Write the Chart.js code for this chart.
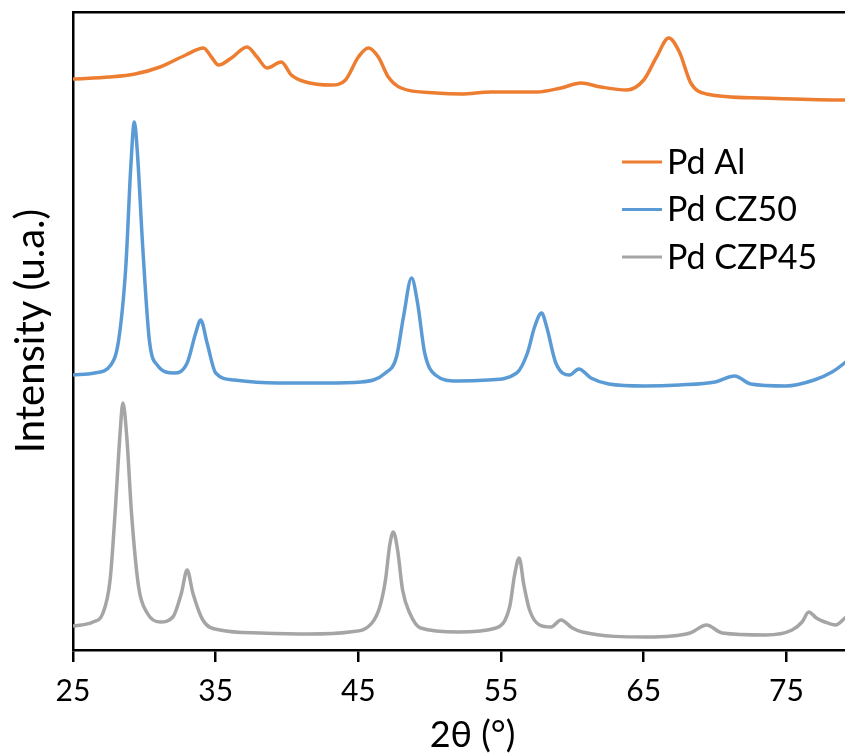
<!DOCTYPE html>
<html>
<head>
<meta charset="utf-8">
<script src="https://cdn.jsdelivr.net/npm/chart.js@4/dist/chart.umd.min.js"></script>
<style>
  body { margin: 0; background: #fff; }
  #crop { width: 845px; height: 753px; overflow: hidden; }
</style>
</head>
<body>
<div id="crop"><canvas id="myChart" width="872" height="753"></canvas></div>
<script>
// XRD patterns (intensity in arbitrary units, stacked)
const alTheta = [25.0, 27.6, 29.35, 31.1, 32.9, 34.15, 34.7, 35.2, 36.1, 37.2, 37.9, 38.6, 39.6, 40.3, 41.3, 43.1, 44.1,
    45.0, 45.7, 46.4, 47.1, 48.0, 50.45, 52.2, 54.3, 57.5, 59.2, 60.6, 62.0, 63.8, 65.0, 65.9, 66.75, 67.5, 68.3,
    69.4, 73.2, 79.0, 80.0];
const alIntensity = [571, 573, 576, 583, 595, 602, 593, 585, 592, 603, 593, 582, 588, 575, 568, 565, 570,
    593, 602, 593, 573, 562, 557, 556, 558, 558, 562, 567, 563, 560, 570, 593, 612, 598, 567,
    556, 552, 550, 550];

const cz50Theta = [25.0, 26.5, 27.65, 28.2, 28.7, 29.05, 29.3, 29.5, 29.9, 30.35, 30.9, 32.1, 33.0, 33.6, 33.95, 34.4,
    35.0, 36.3, 39.35, 42.7, 45.2, 46.9, 47.67, 48.16, 48.73, 49.15, 49.65, 50.4, 51.9, 54.1, 56.1, 56.85, 57.35,
    57.84, 58.2, 58.84, 59.8, 60.45, 61.3, 62.56, 65.04, 67.5, 70.0, 71.37, 72.5, 74.97, 76.95, 78.2, 79.07, 79.6];
const cz50Intensity = [275, 277, 285, 310, 383, 483, 528, 500, 400, 310, 285, 277, 287, 317, 330, 307,
    277, 270, 267, 267, 268, 277, 293, 333, 372, 347, 297, 275, 269, 270, 277, 297, 323,
    337, 323, 287, 275, 281, 272, 266, 264, 265, 268, 274, 266, 264, 270, 278, 287, 294];

const czp45Theta = [25.0, 26.4, 27.1, 27.6, 27.95, 28.3, 28.5, 28.77, 29.1, 29.6, 30.2, 31.1, 32.0, 32.6, 33.0, 33.4,
    34.1, 35.3, 38.1, 41.5, 44.4, 45.95, 46.5, 46.9, 47.2, 47.45, 47.75, 48.1, 48.6, 49.36, 52.0, 54.65, 55.6,
    55.95, 56.27, 56.6, 57.0, 57.7, 58.5, 59.2, 60.0, 60.7, 65.2, 68.25, 69.4, 70.5, 73.55, 75.4, 76.1, 76.57,
    77.1, 77.7, 78.45, 79.1, 79.6];
const czp45Intensity = [24, 28, 37, 70, 137, 217, 247, 213, 137, 63, 37, 28, 33, 57, 80, 57,
    30, 20, 17, 16, 18, 27, 43, 70, 105, 118, 100, 60, 37, 22, 18, 22, 43,
    75, 92, 65, 40, 25, 23, 30, 22, 18, 13, 17, 25, 17, 15, 20, 28, 38,
    32, 28, 25, 32, 38];

const seriesLabels = ['Pd Al', 'Pd CZ50', 'Pd CZP45'];
const seriesColors = ['#ED7D31', '#5B9BD5', '#A5A5A5'];
const xTicks = [25, 35, 45, 55, 65, 75];

function points(xs, ys)
{
    return xs.map((x, i) => ({x: x, y: ys[i]}));
}

// legend drawn inside the plot area, top right
const insideLegend = {
    id: 'insideLegend',
    afterDraw(chart)
    {
        const ctx = chart.ctx;
        ctx.save();
        ctx.font = '34px Lato';
        ctx.textBaseline = 'middle';
        chart.data.datasets.forEach((ds, i) => {
            const y = 162 + i * 47.5;
            ctx.strokeStyle = ds.borderColor;
            ctx.lineWidth = 3;
            ctx.beginPath();
            ctx.moveTo(622, y);
            ctx.lineTo(662, y);
            ctx.stroke();
            ctx.fillStyle = '#000';
            ctx.fillText(ds.label, 667, y + 1);
        });
        ctx.restore();
    }
};

Chart.defaults.font.family = 'Lato';
Chart.defaults.color = '#000';

let myChart = document.getElementById('myChart').getContext('2d');

let chart_1 = new Chart(myChart,
{
    type: 'line',
    data:
    {
        datasets:
        [
            {label: seriesLabels[0], data: points(alTheta, alIntensity)},
            {label: seriesLabels[1], data: points(cz50Theta, cz50Intensity)},
            {label: seriesLabels[2], data: points(czp45Theta, czp45Intensity)}
        ].map((ds, i) => Object.assign(ds, {
            borderColor: seriesColors[i],
            backgroundColor: seriesColors[i],
            borderWidth: 3.5,
            pointRadius: 0,
            cubicInterpolationMode: 'monotone'
        }))
    },
    plugins: [insideLegend],
    options:
    {
        responsive: false,
        animation: false,
        layout: {padding: {top: 12, right: 0, bottom: 0, left: 0}},
        plugins:
        {
            legend: {display: false},
            tooltip: {enabled: false}
        },
        scales:
        {
            x:
            {
                type: 'linear',
                position: 'bottom',
                min: 25,
                max: 81,
                afterBuildTicks: (scale) => { scale.ticks = xTicks.map(v => ({value: v})); },
                grid: {display: true, drawOnChartArea: false, drawTicks: true, tickLength: 12, color: '#000', lineWidth: 2.5},
                border: {display: true, color: '#000', width: 2.5},
                ticks: {font: {size: 30}, padding: 11.5, maxRotation: 0},
                title: {display: true, text: '2θ (°)', font: {size: 36}, padding: {top: -7.6, bottom: -3.6}}
            },
            xTop:
            {
                type: 'linear',
                position: 'top',
                min: 25,
                max: 81,
                grid: {display: false, drawTicks: false},
                border: {display: true, color: '#000', width: 2.5},
                ticks: {display: false}
            },
            y:
            {
                min: 0,
                max: 638,
                grid: {display: false, drawTicks: false},
                border: {display: true, color: '#000', width: 2.5},
                ticks: {display: false},
                title: {display: true, text: 'Intensity (u.a.)', font: {size: 40}, padding: {top: 7, bottom: 18}}
            }
        }
    }
});
</script>
</body>
</html>
